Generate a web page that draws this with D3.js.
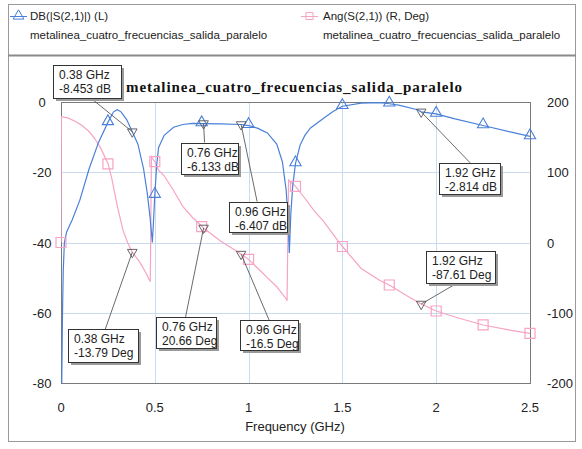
<!DOCTYPE html>
<html>
<head>
<meta charset="utf-8">
<script src="https://cdn.jsdelivr.net/npm/d3@7"></script>
<style>
  body { margin: 0; background: #fff; }
  text { font-family: "Liberation Sans", Arial, sans-serif; }
</style>
</head>
<body>
<script>
// S21 magnitude (dB), left axis
var dbFreq = [0.004, 0.008, 0.012, 0.018, 0.03, 0.06, 0.1, 0.15, 0.2, 0.25, 0.28, 0.3, 0.32, 0.35, 0.38,
  0.41, 0.44, 0.46, 0.475, 0.487, 0.493, 0.5, 0.51, 0.52, 0.55, 0.6, 0.65, 0.7, 0.76, 0.85, 0.96, 1.0,
  1.05, 1.1, 1.15, 1.18, 1.2, 1.21, 1.217, 1.225, 1.235, 1.25, 1.275, 1.3, 1.33, 1.4, 1.45, 1.5, 1.6,
  1.7, 1.75, 1.8, 1.9, 1.92, 2.0, 2.1, 2.25, 2.4, 2.5];
var dbVal = [-80, -60, -48, -40, -37, -33.5, -28, -19, -11.5, -5.8, -2.8, -2.2, -2.8, -5, -8.45,
  -12, -19, -26, -33, -40, -34, -26.5, -18, -13, -9.5, -7.2, -6.4, -6.1, -6.13, -6.2, -6.4, -6.7,
  -7.5, -8.8, -12, -17, -25, -33, -43, -32, -24, -17.5, -12.2, -9.5, -7.4, -4.6, -2.7, -1.2, -0.3,
  -0.2, -0.5, -0.9, -2.2, -2.8, -3.4, -4.8, -6.7, -8.6, -9.8];

// S21 phase (deg), right axis
var angFreq = [0, 0.002, 0.04, 0.08, 0.11, 0.15, 0.18, 0.21, 0.25, 0.27, 0.3, 0.33, 0.355, 0.38, 0.42,
  0.45, 0.476, 0.482, 0.5, 0.52, 0.55, 0.6, 0.65, 0.7, 0.76, 0.85, 0.96, 1.0, 1.05, 1.1, 1.15, 1.2,
  1.205, 1.213, 1.25, 1.3, 1.35, 1.4, 1.45, 1.5, 1.6, 1.7, 1.75, 1.85, 1.92, 2.0, 2.1, 2.25, 2.4, 2.5];
var angVal = [0, 179, 177, 172, 167, 158, 148, 135, 113, 92, 52, 18, 0, -13.8, -28,
  -42, -56, 122, 115, 103, 95, 74, 51, 36, 20.7, 2, -16.5, -24, -37, -50, -63, -80,
  -83, 89, 80, 63, 45, 30, 12, -5.7, -37, -54, -60.5, -77, -87.6, -97.5, -106, -117.4, -125, -129.3];

// symbol markers every 0.25 GHz
var triFreq = [0.25, 0.5, 0.75, 1.0, 1.25, 1.5, 1.75, 2.0, 2.25, 2.5];
var triVal = [-5.8, -26.5, -6.1, -6.6, -17.5, -1.2, -0.5, -3.4, -6.7, -9.8];
var sqFreq = [0, 0.25, 0.5, 0.75, 1.0, 1.25, 1.5, 1.75, 2.0, 2.25, 2.5];
var sqVal = [0, 112, 115, 22.5, -24, 80, -5.7, -60.5, -97.5, -117.4, -129.3];

// readouts
var mkFreq = [0.38, 0.76, 0.96, 1.92, 0.38, 0.76, 0.96, 1.92];
var mkVal = [-8.453, -6.133, -6.407, -2.814, -13.79, 20.66, -16.5, -87.61];
var mkUnit = ["dB", "dB", "dB", "dB", "Deg", "Deg", "Deg", "Deg"];

var xTicks = [0, 0.5, 1, 1.5, 2, 2.5];
var yLTicks = [0, -20, -40, -60, -80];
var yRTicks = [200, 100, 0, -100, -200];

var width = 582, height = 449;
var blue = "#4a80d8", pink = "#f7a3c4", grid = "#c9dbef";

var svg = d3.select("body").append("svg")
    .attr("width", width)
    .attr("height", height);

var x = d3.scaleLinear().domain([0, 2.5]).range([61, 530]);
var yL = d3.scaleLinear().domain([-80, 0]).range([383, 102]);
var yR = d3.scaleLinear().domain([-200, 200]).range([383, 102]);

// frame
svg.append("rect").attr("x", 8.5).attr("y", 4.5).attr("width", 567).attr("height", 437)
    .attr("fill", "none").attr("stroke", "#9a9a9a");
svg.append("line").attr("x1", 8).attr("x2", 576).attr("y1", 55.5).attr("y2", 55.5)
    .attr("stroke", "#8a8a8a").attr("stroke-width", 2);

// legend
var legend = [
  {x: 10, color: blue, sym: d3.symbolTriangle, t: "DB(|S(2,1)|) (L)", tx: 30},
  {x: 301, color: pink, sym: d3.symbolSquare, t: "Ang(S(2,1)) (R, Deg)", tx: 323}
];
legend.forEach(function(l) {
  svg.append("line").attr("x1", l.x).attr("x2", l.x + 17).attr("y1", 16.5).attr("y2", 16.5)
      .attr("stroke", l.color);
  svg.append("path").attr("d", d3.symbol(l.sym, 50)())
      .attr("transform", "translate(" + (l.x + 8.5) + ",16)")
      .attr("fill", "none").attr("stroke", l.color);
  svg.append("text").attr("x", l.tx).attr("y", 20).attr("font-size", 11.5).attr("fill", "#222").text(l.t);
  svg.append("text").attr("x", l.tx).attr("y", 39).attr("font-size", 11.5).attr("fill", "#222")
      .text("metalinea_cuatro_frecuencias_salida_paralelo");
});

// title
svg.append("text").attr("x", 126).attr("y", 92)
    .style("font-family", "'Liberation Serif', 'Times New Roman', serif")
    .attr("font-weight", "bold").attr("font-size", 15).attr("fill", "#111")
    .attr("textLength", 336)
    .text("metalinea_cuatro_frecuencias_salida_paralelo");

// grid
svg.append("g").selectAll("line").data(xTicks.slice(1, -1)).enter().append("line")
    .attr("x1", function(d) { return Math.round(x(d)) + 0.5; })
    .attr("x2", function(d) { return Math.round(x(d)) + 0.5; })
    .attr("y1", 102).attr("y2", 383).attr("stroke", grid);
svg.append("g").selectAll("line").data(yLTicks.slice(1, -1)).enter().append("line")
    .attr("y1", function(d) { return Math.round(yL(d)) + 0.5; })
    .attr("y2", function(d) { return Math.round(yL(d)) + 0.5; })
    .attr("x1", 61).attr("x2", 530).attr("stroke", grid);

// plot box
svg.append("rect").attr("x", 61.5).attr("y", 102.5).attr("width", 469).attr("height", 281)
    .attr("fill", "none").attr("stroke", "#7a7a7a");

// axes labels
svg.append("g").selectAll("text").data(yLTicks).enter().append("text")
    .attr("x", 42).attr("y", function(d) { return yL(d) + 5; })
    .attr("text-anchor", "middle").attr("font-size", 13).attr("fill", "#222")
    .text(function(d) { return d; });
svg.append("g").selectAll("text").data(yRTicks).enter().append("text")
    .attr("x", 547).attr("y", function(d) { return yR(d) + 5; })
    .attr("font-size", 13).attr("fill", "#222")
    .text(function(d) { return d; });
svg.append("g").selectAll("text").data(xTicks).enter().append("text")
    .attr("x", function(d) { return x(d); }).attr("y", 412)
    .attr("text-anchor", "middle").attr("font-size", 13).attr("fill", "#222")
    .text(function(d) { return d; });
svg.append("text").attr("x", 295).attr("y", 431).attr("text-anchor", "middle")
    .attr("font-size", 13).attr("fill", "#222").text("Frequency (GHz)");

// curves
var clip = svg.append("clipPath").attr("id", "clip").append("rect")
    .attr("x", 61).attr("y", 102).attr("width", 470).attr("height", 282);
var plot = svg.append("g").attr("clip-path", "url(#clip)");

var angData = d3.zip(angFreq, angVal);
var dbData = d3.zip(dbFreq, dbVal);

plot.append("path").datum(angData)
    .attr("d", d3.line().x(function(d) { return x(d[0]); }).y(function(d) { return yR(d[1]); }))
    .attr("fill", "none").attr("stroke", pink).attr("stroke-width", 1.2);
plot.append("path").datum(dbData)
    .attr("d", d3.line().x(function(d) { return x(d[0]); }).y(function(d) { return yL(d[1]); }))
    .attr("fill", "none").attr("stroke", blue).attr("stroke-width", 1.2);

svg.append("g").selectAll("path").data(d3.zip(sqFreq, sqVal)).enter().append("path")
    .attr("d", d3.symbol(d3.symbolSquare, 100)())
    .attr("transform", function(d) { return "translate(" + x(d[0]) + "," + yR(d[1]) + ")"; })
    .attr("fill", "none").attr("stroke", pink).attr("stroke-width", 1.2);
svg.append("g").selectAll("path").data(d3.zip(triFreq, triVal)).enter().append("path")
    .attr("d", d3.symbol(d3.symbolTriangle, 55)())
    .attr("transform", function(d) { return "translate(" + x(d[0]) + "," + (yL(d[1]) - 1) + ")"; })
    .attr("fill", "none").attr("stroke", blue).attr("stroke-width", 1.1);

// readout boxes: offsets of box (left, top) and leader start from the marker, in px
var boxPos = [
  {bx: -79, by: -67, w: 68, h: 33, lx: -42, ly: -34},
  {bx: -23, by: 19, w: 57, h: 31, lx: 1, ly: 19},
  {bx: -12, by: 77, w: 58, h: 30, lx: 16, ly: 77},
  {bx: 18, by: 51, w: 61, h: 31, lx: 49, ly: 51},
  {bx: -64, by: 77, w: 70, h: 33, lx: -27, ly: 77},
  {bx: -48, by: 89, w: 60, h: 31, lx: -18, ly: 89},
  {bx: -1, by: 66, w: 58, h: 30, lx: 28, ly: 66},
  {bx: 5, by: -53, w: 69, h: 32, lx: 36, ly: -21}
];

var readouts = mkFreq.map(function(f, i) {
  var py = mkUnit[i] === "dB" ? yL(mkVal[i]) : yR(mkVal[i]);
  return {px: x(f), py: py, f: f, v: mkVal[i], u: mkUnit[i], b: boxPos[i]};
});

var ro = svg.append("g").selectAll("g").data(readouts).enter().append("g");
ro.append("line")
    .attr("x1", function(d) { return d.px; }).attr("y1", function(d) { return d.py; })
    .attr("x2", function(d) { return d.px + d.b.lx; }).attr("y2", function(d) { return d.py + d.b.ly; })
    .attr("stroke", "#444").attr("stroke-width", 0.8);
ro.append("path")
    .attr("d", d3.symbol(d3.symbolTriangle, 40)())
    .attr("transform", function(d) { return "translate(" + d.px + "," + d.py + ") rotate(180)"; })
    .attr("fill", "none").attr("stroke", "#555").attr("stroke-width", 0.9);
ro.append("rect")
    .attr("x", function(d) { return Math.round(d.px + d.b.bx) + 3; })
    .attr("y", function(d) { return Math.round(d.py + d.b.by) + 3; })
    .attr("width", function(d) { return d.b.w; }).attr("height", function(d) { return d.b.h; })
    .attr("fill", "#9a9a9a");
ro.append("rect")
    .attr("x", function(d) { return Math.round(d.px + d.b.bx) + 0.5; })
    .attr("y", function(d) { return Math.round(d.py + d.b.by) + 0.5; })
    .attr("width", function(d) { return d.b.w; }).attr("height", function(d) { return d.b.h; })
    .attr("fill", "#fff").attr("stroke", "#333");
ro.append("text")
    .attr("x", function(d) { return Math.round(d.px + d.b.bx) + 6; })
    .attr("y", function(d) { return Math.round(d.py + d.b.by) + 14; })
    .attr("font-size", 12).attr("fill", "#222")
    .text(function(d) { return d.f + " GHz"; });
ro.append("text")
    .attr("x", function(d) { return Math.round(d.px + d.b.bx) + 6; })
    .attr("y", function(d) { return Math.round(d.py + d.b.by) + 28; })
    .attr("font-size", 12).attr("fill", "#222")
    .text(function(d) { return d.v + " " + d.u; });
</script>
</body>
</html>
